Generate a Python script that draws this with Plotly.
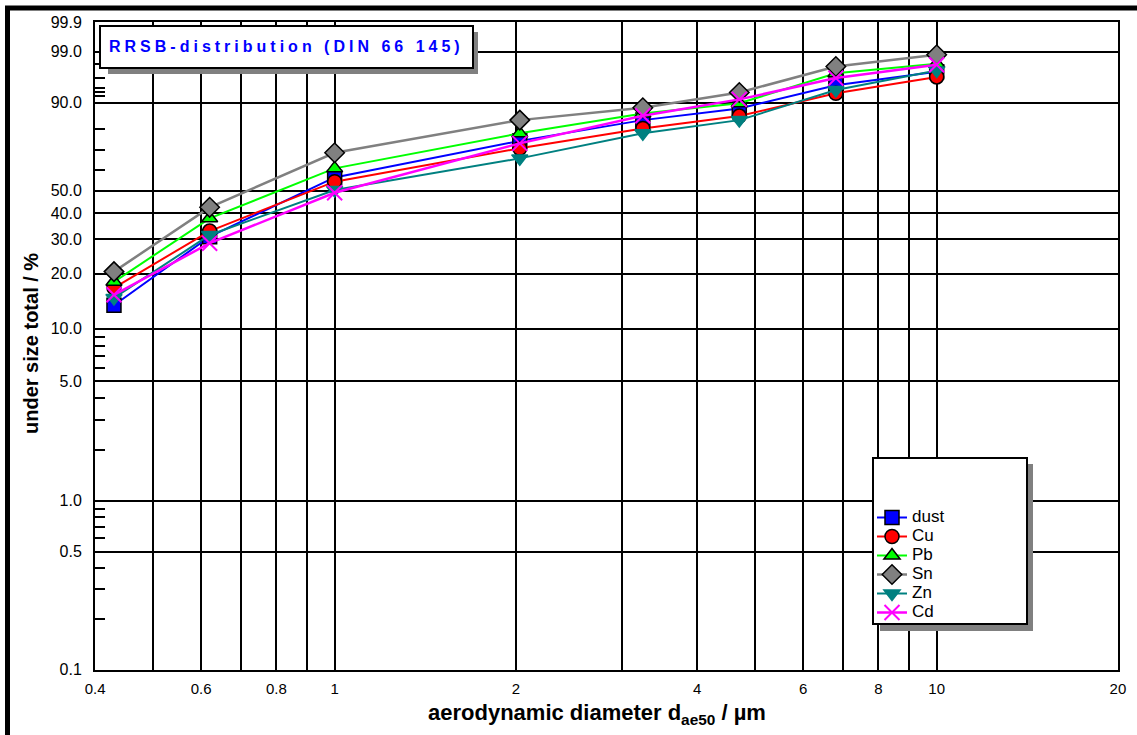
import numpy as np
import plotly.graph_objects as go

# aerodynamic cut diameters of the impactor stages (µm)
diameter_um = [0.43, 0.62, 1.0, 2.03, 3.25, 4.7, 6.8, 10.0]

# cumulative undersize (%) per component
dust = [13.5, 30.9, 56.4, 74.5, 83.7, 88.1, 94.6, 97.0]
cu = [16.8, 32.9, 54.3, 70.9, 80.2, 85.3, 92.7, 96.2]
pb = [18.1, 37.8, 60.9, 78.0, 86.3, 89.8, 96.8, 98.0]
sn = [20.5, 42.4, 68.7, 83.7, 88.3, 92.9, 97.7, 98.8]
zn = [14.8, 31.5, 50.3, 65.9, 78.0, 83.7, 93.5, 97.2]
cd = [15.4, 28.7, 49.0, 73.3, 85.4, 91.0, 96.0, 97.9]

# RRSB probability-scale ticks
y_major_pct = [0.1, 0.5, 1, 5, 10, 20, 30, 40, 50, 90, 99, 99.9]
y_major_txt = ["0.1", "0.5", "1.0", "5.0", "10.0", "20.0", "30.0", "40.0",
               "50.0", "90.0", "99.0", "99.9"]
y_minor_pct = [0.2, 0.3, 0.4, 0.6, 0.7, 0.8, 0.9, 2, 3, 4, 6, 7, 8, 9,
               60, 70, 80, 92, 93, 94, 96, 98]

x_grid = [0.4, 0.5, 0.6, 0.7, 0.8, 0.9, 1, 2, 3, 4, 5, 6, 7, 8, 9, 10, 20]
x_txt = ["0.4", "", "0.6", "", "0.8", "", "1", "2", "", "4", "", "6", "",
         "8", "", "10", "20"]


def rrsb(pct):
    """Rosin-Rammler-Sperling-Bennett ordinate: ln(-ln(1 - F))."""
    f = np.asarray(pct, dtype=float) / 100.0
    return np.log(-np.log(1.0 - f))


FONT = "Liberation Sans, Arial, sans-serif"
W, H = 1137, 735
ML, MR, MT, MB = 95, 19, 22, 65
PW, PH = W - ML - MR, H - MT - MB


def px(x):
    return (x - ML) / PW


def py(y):
    return (H - MB - y) / PH


series = [
    ("dust", dust, "#0000ff", "square", "black", 14, 2.0),
    ("Cu", cu, "#ff0000", "circle", "black", 14, 2.0),
    ("Pb", pb, "#00ff00", "triangle-up", "black", 14, 2.0),
    ("Sn", sn, "#808080", "diamond", "black", 15, 2.5),
    ("Zn", zn, "#008080", "triangle-down", "#008080", 14, 2.0),
    ("Cd", cd, "#ff00ff", "x-thin", "#ff00ff", 15, 2.5),
]

fig = go.Figure()
for name, vals, color, sym, edge, size, lw in series:
    fig.add_trace(go.Scatter(
        x=diameter_um, y=rrsb(vals), mode="lines+markers",
        name='<span style="font-size:17px">%s</span>' % name,
        line=dict(color=color, width=lw),
        marker=dict(symbol=sym, size=size, color=color,
                    line=dict(color=edge, width=2 if sym == "x-thin" else 1.5)),
    ))

eps = 1e-4
fig.update_xaxes(
    type="log",
    range=[np.log10(0.4) - eps, np.log10(20) + eps],
    tickmode="array", tickvals=x_grid, ticktext=x_txt,
    showgrid=True, gridcolor="black", gridwidth=2,
    showline=True, linecolor="black", linewidth=2, mirror=True,
    ticks="", ticklabelstandoff=4,
    tickfont=dict(family=FONT, size=15, color="black"),
    zeroline=False,
)
fig.update_yaxes(
    range=[float(rrsb(0.1)) - 0.002, float(rrsb(99.9)) + 0.002],
    tickmode="array", tickvals=rrsb(y_major_pct), ticktext=y_major_txt,
    showgrid=True, gridcolor="black", gridwidth=2,
    showline=True, linecolor="black", linewidth=2, mirror=True,
    ticks="inside", ticklen=10, tickwidth=2, tickcolor="black",
    ticklabelstandoff=8,
    minor=dict(tickmode="array", tickvals=rrsb(y_minor_pct), ticks="inside",
               ticklen=10, tickwidth=2, tickcolor="black", showgrid=False),
    tickfont=dict(family=FONT, size=16, color="black"),
    zeroline=False,
)

shapes = [
    # outer frame (top and left edges)
    dict(type="line", xref="paper", yref="paper", x0=px(5), x1=px(W + 5),
         y0=py(8), y1=py(8), line=dict(color="black", width=5)),
    dict(type="line", xref="paper", yref="paper", x0=px(7.5), x1=px(7.5),
         y0=py(6), y1=py(H + 5), line=dict(color="black", width=5)),
    # heading box with drop shadow
    dict(type="rect", xref="paper", yref="paper", x0=px(108), x1=px(478),
         y0=py(74), y1=py(32), fillcolor="#808080", line=dict(width=0)),
    dict(type="rect", xref="paper", yref="paper", x0=px(100), x1=px(473),
         y0=py(68), y1=py(26), fillcolor="white",
         line=dict(color="black", width=2)),
    # legend box with drop shadow
    dict(type="rect", xref="paper", yref="paper", x0=px(880), x1=px(1033),
         y0=py(631), y1=py(464), fillcolor="#808080", line=dict(width=0)),
    dict(type="rect", xref="paper", yref="paper", x0=px(873), x1=px(1027),
         y0=py(624), y1=py(458), fillcolor="white",
         line=dict(color="black", width=2)),
]

annotations = [
    dict(xref="paper", yref="paper", x=px(107), y=py(46.5), xanchor="left",
         yanchor="middle", showarrow=False,
         text='<b><span style="letter-spacing:4px">RRSB-distribution (DIN 66 145)</span></b>',
         font=dict(family=FONT, size=16, color="#0000ff")),
    dict(xref="paper", yref="paper", x=px(31), y=py(344), textangle=-90,
         xanchor="center", yanchor="middle", showarrow=False,
         text="<b>under size total / %</b>",
         font=dict(family=FONT, size=20, color="black")),
    dict(xref="paper", yref="paper", x=px(597), y=py(714), xanchor="center",
         yanchor="middle", showarrow=False,
         text="<b>aerodynamic diameter d<sub>ae50</sub> / µm</b>",
         font=dict(family=FONT, size=22, color="black")),
]

fig.update_layout(
    width=W, height=H, autosize=False,
    margin=dict(l=ML, r=MR, t=MT, b=MB),
    paper_bgcolor="white", plot_bgcolor="white",
    shapes=shapes, annotations=annotations,
    showlegend=True,
    legend=dict(x=px(872), y=py(503), xanchor="left", yanchor="top",
                bgcolor="rgba(0,0,0,0)", borderwidth=0,
                font=dict(family=FONT, size=11, color="black"),
                itemwidth=30, tracegroupgap=0),
)

fig.write_html("out.html")
